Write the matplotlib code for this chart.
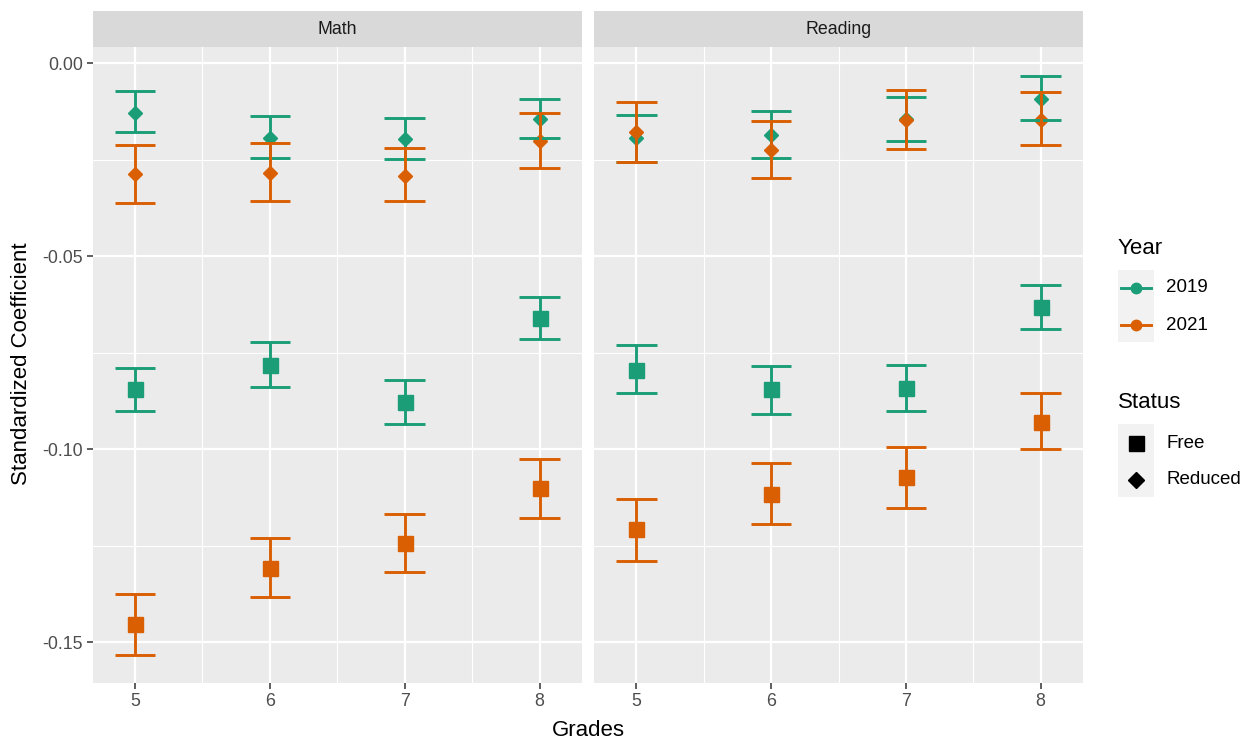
import matplotlib
matplotlib.use("Agg")
import matplotlib.pyplot as plt
from matplotlib.patches import Rectangle
from matplotlib.lines import Line2D

plt.rcParams['font.family'] = ['Liberation Sans', 'DejaVu Sans']

# ---------------- data ----------------
grades = [5, 6, 7, 8]
subjects = ["Math", "Reading"]
years = ["2019", "2021"]
statuses = ["Free", "Reduced"]

# Math
math_free_2019_est = [-0.0844, -0.0781, -0.0879, -0.0661]
math_free_2019_lo = [-0.0901, -0.0840, -0.0934, -0.0715]
math_free_2019_hi = [-0.0790, -0.0723, -0.0822, -0.0607]
math_free_2021_est = [-0.1454, -0.1307, -0.1243, -0.1101]
math_free_2021_lo = [-0.1533, -0.1384, -0.1318, -0.1178]
math_free_2021_hi = [-0.1375, -0.1231, -0.1169, -0.1025]
math_red_2019_est = [-0.0128, -0.0193, -0.0197, -0.0144]
math_red_2019_lo = [-0.0178, -0.0245, -0.0248, -0.0195]
math_red_2019_hi = [-0.0072, -0.0137, -0.0141, -0.0092]
math_red_2021_est = [-0.0288, -0.0285, -0.0292, -0.0202]
math_red_2021_lo = [-0.0361, -0.0356, -0.0356, -0.0272]
math_red_2021_hi = [-0.0212, -0.0207, -0.0220, -0.0129]
# Reading
read_free_2019_est = [-0.0795, -0.0844, -0.0841, -0.0632]
read_free_2019_lo = [-0.0855, -0.0909, -0.0901, -0.0690]
read_free_2019_hi = [-0.0731, -0.0785, -0.0781, -0.0575]
read_free_2021_est = [-0.1207, -0.1117, -0.1073, -0.0929]
read_free_2021_lo = [-0.1289, -0.1194, -0.1153, -0.1000]
read_free_2021_hi = [-0.1128, -0.1037, -0.0995, -0.0855]
read_red_2019_est = [-0.0195, -0.0185, -0.0145, -0.0092]
read_red_2019_lo = [-0.0255, -0.0245, -0.0202, -0.0146]
read_red_2019_hi = [-0.0133, -0.0125, -0.0087, -0.0033]
read_red_2021_est = [-0.0179, -0.0226, -0.0147, -0.0146]
read_red_2021_lo = [-0.0257, -0.0298, -0.0223, -0.0212]
read_red_2021_hi = [-0.0100, -0.0149, -0.0070, -0.0075]

series = {
    ("Math", "2019", "Free"): (math_free_2019_est, math_free_2019_lo, math_free_2019_hi),
    ("Math", "2021", "Free"): (math_free_2021_est, math_free_2021_lo, math_free_2021_hi),
    ("Math", "2019", "Reduced"): (math_red_2019_est, math_red_2019_lo, math_red_2019_hi),
    ("Math", "2021", "Reduced"): (math_red_2021_est, math_red_2021_lo, math_red_2021_hi),
    ("Reading", "2019", "Free"): (read_free_2019_est, read_free_2019_lo, read_free_2019_hi),
    ("Reading", "2021", "Free"): (read_free_2021_est, read_free_2021_lo, read_free_2021_hi),
    ("Reading", "2019", "Reduced"): (read_red_2019_est, read_red_2019_lo, read_red_2019_hi),
    ("Reading", "2021", "Reduced"): (read_red_2021_est, read_red_2021_lo, read_red_2021_hi),
}

yticks = [0.00, -0.05, -0.10, -0.15]
ytick_labels = ["0.00", "-0.05", "-0.10", "-0.15"]

# ---------------- style ----------------
colors = {"2019": "#1B9E77", "2021": "#D95F02"}
markers = {"Free": ("s", 10.8), "Reduced": ("D", 7.3)}
W, H = 1253, 740
PANEL_BG = "#EBEBEB"
STRIP_BG = "#D9D9D9"
cap_half = 0.15

fig = plt.figure(figsize=(W / 100, H / 100), dpi=100)

panel_top, panel_bot = 47, 683
panels_px = [(92.5, 582), (594, 1083)]

axes = []
for (x0, x1), subj in zip(panels_px, subjects):
    ax = fig.add_axes([x0 / W, 1 - panel_bot / H, (x1 - x0) / W, (panel_bot - panel_top) / H])
    ax.set_facecolor(PANEL_BG)
    ax.set_xlim(4.685, 8.315)
    ax.set_ylim(-0.1606, 0.0042)
    for s in ax.spines.values():
        s.set_visible(False)
    # grid
    for xm in [5.5, 6.5, 7.5]:
        ax.axvline(xm, color="white", lw=0.8, zorder=0)
    for ym in [-0.025, -0.075, -0.125]:
        ax.axhline(ym, color="white", lw=0.8, zorder=0)
    for xg in grades:
        ax.axvline(xg, color="white", lw=1.6, zorder=0)
    for yg in yticks:
        ax.axhline(yg, color="white", lw=1.6, zorder=0)
    ax.set_xticks(grades)
    ax.set_xticklabels([str(g) for g in grades])
    ax.set_yticks(yticks)
    ax.tick_params(axis="both", colors="#333333", labelcolor="#4D4D4D",
                   labelsize=12.8, length=4, width=1.1, pad=3)
    if subj == "Math":
        ax.set_yticklabels(ytick_labels)
    else:
        ax.set_yticklabels([])
        ax.tick_params(axis="y", length=0)

    # points first, then error bars (2019 then 2021)
    for yr in years:
        for st in statuses:
            est, lo, hi = series[(subj, yr, st)]
            m, ms = markers[st]
            ax.plot(grades, est, linestyle="none", marker=m, markersize=ms,
                    color=colors[yr], zorder=3)
    for yr in years:
        for st in statuses:
            est, lo, hi = series[(subj, yr, st)]
            ax.vlines(grades, lo, hi, color=colors[yr], lw=2.1, zorder=4)
            ax.hlines(lo, [g - cap_half for g in grades], [g + cap_half for g in grades],
                      color=colors[yr], lw=2.1, zorder=4)
            ax.hlines(hi, [g - cap_half for g in grades], [g + cap_half for g in grades],
                      color=colors[yr], lw=2.1, zorder=4)

    # strip
    sax = fig.add_axes([x0 / W, 1 - panel_top / H, (x1 - x0) / W, 36 / H])
    sax.set_facecolor(STRIP_BG)
    sax.set_xticks([])
    sax.set_yticks([])
    for s in sax.spines.values():
        s.set_visible(False)
    sax.text(0.5, 0.5, subj, ha="center", va="center", fontsize=12.8, color="#1A1A1A",
             transform=sax.transAxes)
    axes.append(ax)

# axis titles
fig.text(588 / W, 1 - 730 / H, "Grades", ha="center", va="center", fontsize=16, color="black")
fig.text(22 / W, 1 - 364 / H, "Standardized Coefficient", ha="center", va="center",
         rotation=90, fontsize=16, color="black")

# ---------------- legend (pixel-space overlay) ----------------
lax = fig.add_axes([0, 0, 1, 1], zorder=5)
lax.set_xlim(0, W)
lax.set_ylim(H, 0)
lax.axis("off")
lax.patch.set_alpha(0)

lax.text(1118, 248, "Year", ha="left", va="center", fontsize=16, color="black")
lax.add_patch(Rectangle((1118, 270), 36, 72, facecolor="#F2F2F2", edgecolor="none"))
for yr, ypx in zip(years, [288, 325]):
    lax.add_line(Line2D([1121, 1151], [ypx, ypx], color=colors[yr], lw=2.1))
    lax.plot([1136], [ypx], marker="o", markersize=7.5, color=colors[yr], linestyle="none")
    lax.text(1166, ypx, yr, ha="left", va="center", fontsize=13.5, color="black")

lax.text(1118, 402, "Status", ha="left", va="center", fontsize=16, color="black")
lax.add_patch(Rectangle((1118, 424), 36, 73, facecolor="#F2F2F2", edgecolor="none"))
for st, ypx in zip(statuses, [443, 480]):
    m, ms = markers[st]
    lax.plot([1136], [ypx], marker=m, markersize=ms if st == "Free" else 8, color="black",
             linestyle="none")
    lax.text(1166, ypx, st, ha="left", va="center", fontsize=13.5, color="black")

fig.savefig("out.png", dpi=100, facecolor="white")
